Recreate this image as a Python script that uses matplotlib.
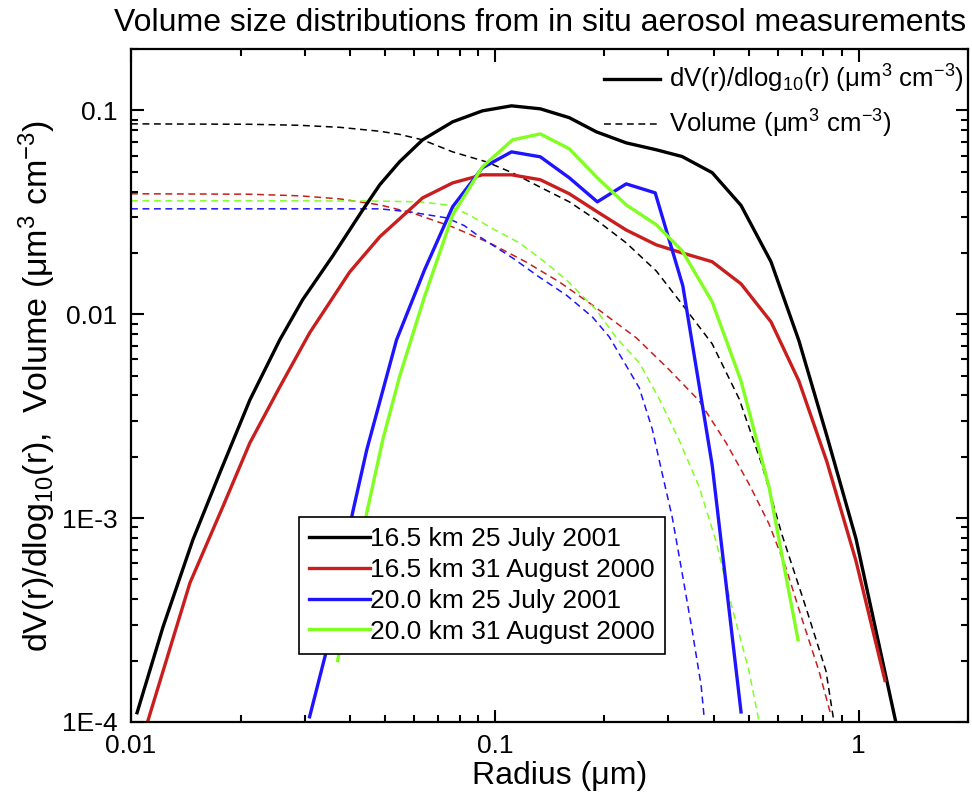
import matplotlib
matplotlib.use('Agg')
import matplotlib.pyplot as plt
from matplotlib.lines import Line2D
from matplotlib.ticker import FixedLocator, FixedFormatter, LogLocator, NullFormatter

plt.rcParams['font.family'] = ['Liberation Sans', 'DejaVu Sans']
plt.rcParams['mathtext.fontset'] = 'custom'
plt.rcParams['mathtext.rm'] = 'Liberation Sans'
plt.rcParams['mathtext.it'] = 'Liberation Sans:italic'

# dV/dlog10(r) curves (solid)
r_k25 = [0.01039, 0.01224, 0.01479, 0.01755, 0.02122, 0.02564, 0.02965, 0.03584, 0.04335, 0.0483,
         0.0547, 0.0633, 0.0766, 0.0925, 0.1112, 0.1334, 0.1603, 0.1902, 0.2298, 0.278,
         0.3273, 0.396, 0.4753, 0.5746, 0.6855, 0.8185, 0.984, 1.266]
dv_k25 = [0.000111, 0.000292, 0.000782, 0.00167, 0.0038, 0.00749, 0.0118, 0.0193, 0.0325, 0.0432,
          0.0559, 0.0717, 0.0879, 0.0995, 0.1053, 0.1018, 0.0921, 0.0785, 0.0693, 0.0641,
          0.0594, 0.0495, 0.0342, 0.0181, 0.00743, 0.00253, 0.000793, 0.0001]

r_r31 = [0.01114, 0.01452, 0.01789, 0.02122, 0.02564, 0.03097, 0.0399, 0.0483, 0.0633, 0.0766,
         0.0925, 0.1112, 0.1334, 0.1603, 0.1914, 0.2298, 0.278, 0.3273, 0.396, 0.4753,
         0.5746, 0.6855, 0.8185, 0.984, 1.182]
dv_r31 = [0.000102, 0.000481, 0.00114, 0.00234, 0.0044, 0.0081, 0.0161, 0.024, 0.0372, 0.0441,
          0.0483, 0.0483, 0.0457, 0.039, 0.0318, 0.0259, 0.0219, 0.02, 0.0181, 0.0141,
          0.00918, 0.00471, 0.00189, 0.000617, 0.00016]

r_b25 = [0.03097, 0.03451, 0.04064, 0.04446, 0.0537, 0.0641, 0.0766, 0.0925, 0.1112, 0.1334,
         0.1603, 0.1914, 0.2298, 0.2761, 0.3288, 0.396, 0.4753]
dv_b25 = [0.000106, 0.000226, 0.00106, 0.00216, 0.00749, 0.0165, 0.0337, 0.0523, 0.0626, 0.0592,
          0.0467, 0.0356, 0.0436, 0.0394, 0.0138, 0.00182, 0.000112]

r_g31 = [0.03698, 0.04446, 0.0492, 0.0547, 0.0641, 0.0766, 0.0925, 0.1119, 0.1334, 0.1603,
         0.1914, 0.2298, 0.278, 0.3273, 0.396, 0.4753, 0.5675, 0.6818]
dv_g31 = [0.0002, 0.00106, 0.00242, 0.00493, 0.0122, 0.0307, 0.0529, 0.0717, 0.0767, 0.0648,
          0.0467, 0.0344, 0.0275, 0.0205, 0.0115, 0.00471, 0.00142, 0.000253]

# cumulative volume curves (dashed)
rv_k25 = [0.01, 0.02122, 0.0291, 0.0375, 0.0483, 0.0547, 0.0633, 0.0766, 0.0949, 0.1119, 0.1327,
          0.1603, 0.1902, 0.2298, 0.278, 0.3273, 0.396, 0.4696, 0.5431, 0.6163, 0.7173, 0.8138, 0.8561]
vol_k25 = [0.0859, 0.0855, 0.0845, 0.0826, 0.079, 0.0763, 0.0717, 0.0626, 0.0559, 0.0494, 0.0422,
           0.0356, 0.029, 0.0224, 0.0163, 0.0112, 0.00716, 0.00385, 0.00182, 0.000827, 0.000363,
           0.000178, 0.0001]

rv_r31 = [0.01, 0.02122, 0.0291, 0.0375, 0.0483, 0.0594, 0.0766, 0.0967, 0.1222, 0.1505,
          0.1854, 0.2449, 0.3017, 0.3648, 0.4325, 0.5, 0.5675, 0.632, 0.6993, 0.7784, 0.8397]
vol_r31 = [0.039, 0.0388, 0.0381, 0.0368, 0.0344, 0.0314, 0.0268, 0.0224, 0.018, 0.0144,
           0.0111, 0.00767, 0.00534, 0.00376, 0.00234, 0.00147, 0.000936, 0.000569, 0.00032,
           0.000178, 0.000108]

rv_b25 = [0.01, 0.0291, 0.0483, 0.0583, 0.0737, 0.0825, 0.0908, 0.1119, 0.1327, 0.1574, 0.1854,
          0.2064, 0.2495, 0.2709, 0.2885, 0.3075, 0.3273, 0.349, 0.3694, 0.3764]
vol_b25 = [0.0329, 0.0329, 0.0329, 0.0318, 0.0297, 0.0272, 0.024, 0.0189, 0.0152, 0.0124, 0.00971,
           0.00775, 0.00436, 0.00274, 0.00166, 0.00101, 0.00054, 0.00028, 0.00015, 0.000105]

rv_g31 = [0.01, 0.0291, 0.0483, 0.0621, 0.0737, 0.0852, 0.0967, 0.1169, 0.1387, 0.1603, 0.1902,
          0.2158, 0.2495, 0.2831, 0.3214, 0.3648, 0.4062, 0.4493, 0.5, 0.5329]
vol_g31 = [0.036, 0.036, 0.0359, 0.0356, 0.0344, 0.0307, 0.0268, 0.0224, 0.0178, 0.0143, 0.0105,
           0.00767, 0.00579, 0.00385, 0.00241, 0.00142, 0.000764, 0.000363, 0.000178, 0.0001]

labels = ['16.5 km 25 July 2001', '16.5 km 31 August 2000', '20.0 km 25 July 2001', '20.0 km 31 August 2000']
colors = ['black', '#C81E1E', '#1E14FF', '#80FF20']

fig = plt.figure(figsize=(9.72, 7.96), dpi=100)
ax = fig.add_axes([0.1348, 0.093, 0.8611, 0.8454])

dash = (0, (4.5, 3))
solid_r = [r_k25, r_r31, r_b25, r_g31]
solid_v = [dv_k25, dv_r31, dv_b25, dv_g31]
dash_r = [rv_k25, rv_r31, rv_b25, rv_g31]
dash_v = [vol_k25, vol_r31, vol_b25, vol_g31]
for i in range(4):
    ax.plot(dash_r[i], dash_v[i], color=colors[i], lw=1.1, linestyle=dash)
handles = []
for i in range(4):
    h, = ax.plot(solid_r[i], solid_v[i], color=colors[i], lw=2.4)
    handles.append(h)

ax.set_xscale('log')
ax.set_yscale('log')
ax.set_xlim(0.01, 2)
ax.set_ylim(1e-4, 0.2)

ax.xaxis.set_major_locator(FixedLocator([0.01, 0.1, 1]))
ax.xaxis.set_major_formatter(FixedFormatter(['0.01', '0.1', '1']))
ax.yaxis.set_major_locator(FixedLocator([1e-4, 1e-3, 0.01, 0.1]))
ax.yaxis.set_major_formatter(FixedFormatter(['1E-4', '1E-3', '0.01', '0.1']))
ax.xaxis.set_minor_locator(LogLocator(base=10, subs=range(2, 10)))
ax.yaxis.set_minor_locator(LogLocator(base=10, subs=range(2, 10)))
ax.xaxis.set_minor_formatter(NullFormatter())
ax.yaxis.set_minor_formatter(NullFormatter())
ax.tick_params(which='both', direction='in', top=True, right=True, width=1.5, labelsize=19)
ax.tick_params(which='major', length=9)
ax.tick_params(which='minor', length=5)
ax.tick_params(axis='y', pad=10)
ax.tick_params(axis='x', pad=9)
for s in ax.spines.values():
    s.set_linewidth(1.6)

ax.set_xlabel('Radius (μm)', fontsize=23)
ax.xaxis.label.set_va('center')
ax.xaxis.set_label_coords(0.5125, -0.08)
ax.set_ylabel('dV(r)/dlog$_{10}$(r),  Volume (μm$^3$ cm$^{-3}$)', fontsize=24.5)
ax.yaxis.label.set_va('center')
ax.yaxis.set_label_coords(-0.112, 0.5)
fig.text(540 / 972, 1 - 23 / 796, 'Volume size distributions from in situ aerosol measurements',
         fontsize=23, ha='center', va='center')

style_handles = [Line2D([], [], color='black', lw=2.4),
                 Line2D([], [], color='black', lw=1.1, linestyle=dash)]
leg1 = ax.legend(style_handles, ['dV(r)/dlog$_{10}$(r) (μm$^3$ cm$^{-3}$)', 'Volume (μm$^3$ cm$^{-3}$)'],
                 loc='upper right', bbox_to_anchor=(1.012, 1.0), frameon=False, fontsize=18.5,
                 handlelength=2.2, handletextpad=0.35, labelspacing=0.5, borderaxespad=0.15)
ax.add_artist(leg1)
leg2 = ax.legend(handles, labels, loc='upper left', bbox_to_anchor=(0.2007, 0.3046), fontsize=19,
                 handlelength=2.3, handletextpad=0.0, labelspacing=0.26, borderaxespad=0,
                 fancybox=False, edgecolor='black', framealpha=1, borderpad=0.38)
leg2.get_frame().set_linewidth(1.2)

fig.savefig('out.png', dpi=100)
